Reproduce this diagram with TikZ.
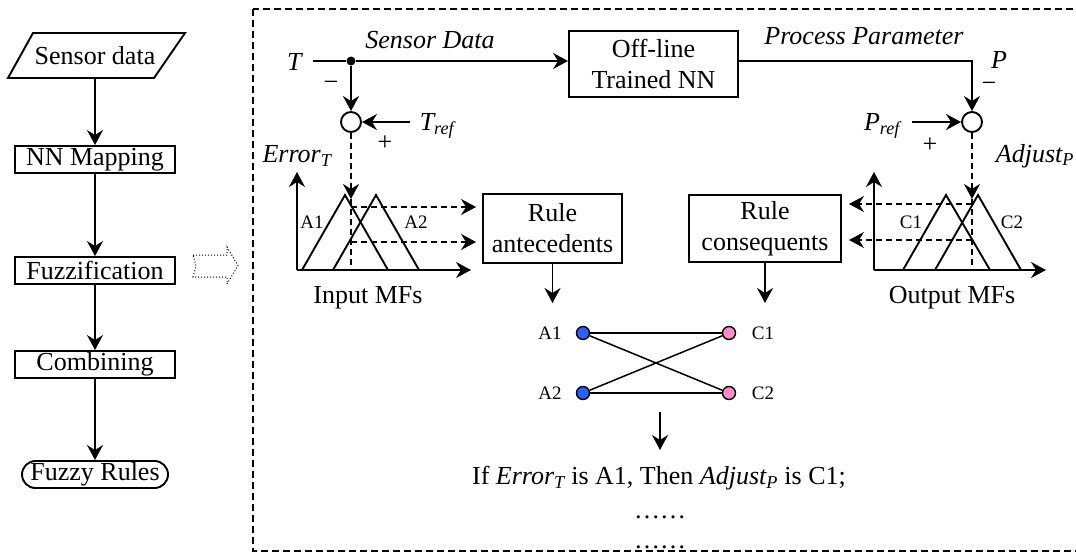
\documentclass[tikz,border=0pt]{standalone}
\usepackage{fontspec}
\setmainfont{Liberation Serif}
\usetikzlibrary{arrows.meta}
\definecolor{nodeblue}{RGB}{45,95,255}
\definecolor{nodepink}{RGB}{255,140,200}
\tikzset{
  ln/.style={line width=1.9pt},
  arr/.style={ln,-{Stealth[length=15pt,width=16pt,inset=5pt]}},
  darr/.style={arr,dash pattern=on 6pt off 4pt},
  dsh/.style={ln,dash pattern=on 6pt off 4pt},
  box/.style={draw,ln,inner sep=0pt,align=center},
  lbl/.style={inner sep=0pt},
  sm/.style={font=\fontsize{19}{21}\selectfont,inner sep=0pt},
  dotn/.style={circle,draw,line width=1.4pt,minimum size=13pt,inner sep=0pt},
  sumc/.style={circle,draw,ln,minimum size=20pt,inner sep=0pt},
}
\begin{document}
\begin{tikzpicture}[x=1pt,y=-1pt,font=\fontsize{26}{31}\selectfont]
\useasboundingbox (0,0) rectangle (1076,552);
% ---------- left flowchart ----------
\node[lbl,minimum height=45pt] (sd) at (95,55.5) {Sensor data};
\draw[ln] (33,33) -- (185,33) -- (154,78) -- (8,78) -- cycle;
\node[box,minimum width=160pt,minimum height=27pt] (nn) at (95,159.5) {NN Mapping};
\node[box,minimum width=160pt,minimum height=27pt] (fz) at (95,270.5) {Fuzzification};
\node[box,minimum width=160pt,minimum height=27pt] (cb) at (95,364.5) {Combining};
\node[box,rounded corners=13.5pt,minimum width=146pt,minimum height=27pt] (fr) at (95,474.5) {Fuzzy Rules};
\draw[arr] (sd.south) -- (nn.north);
\draw[arr] (nn.south) -- (fz.north);
\draw[arr] (fz.south) -- (cb.north);
\draw[arr] (cb.south) -- (fr.north);
% hollow dotted arrow
\draw[line width=1pt,dotted] (193,255) -- (227,255) -- (227,247) -- (238,265.5) -- (227,284) -- (227,277) -- (193,277) -- (196,266) -- cycle;
% ---------- dashed frame ----------
\draw[line width=1.6pt,dash pattern=on 7pt off 4pt] (253,9) rectangle (1100,551);
% ---------- top signal path ----------
\node[lbl] (tl) at (295,62) {\textit{T}};
\coordinate (ts) at (313,61);
\node[circle,fill,inner sep=0pt,minimum size=9pt] (dot) at (351,61) {};
\node[box,minimum width=169pt,minimum height=66pt] (onn) at (653.5,64) {Off-line\\Trained NN};
\node[lbl] at (430,40) {\textit{Sensor Data}};
\node[lbl] at (864,36) {\textit{Process Parameter}};
\node[sumc] (cl) at (351,122) {};
\node[sumc] (cr) at (972,122) {};
\draw[ln] (ts) -- (dot);
\draw[arr] (dot) -- (dot -| onn.west);
\draw[arr] (onn.east |- dot) -- (cr |- dot) -- (cr.north);
\draw[arr] (dot) -- (cl.north);
\node[lbl] at (331,86) {−};
\node[lbl] at (989,87) {−};
\node[lbl] at (999,60) {\textit{P}};
\coordinate (trs) at (410,122);
\draw[arr] (trs) -- (cl.east);
\node[lbl] at (437,126) {\textit{T\textsubscript{ref}}};
\coordinate (prs) at (912,122);
\draw[arr] (prs) -- (cr.west);
\node[lbl] at (882,126) {\textit{P\textsubscript{ref}}};
\node[lbl] at (385,143) {+};
\node[lbl] at (930,145) {+};
\node[lbl] at (297,156) {\textit{Error\textsubscript{T}}};
\node[lbl] at (1035,156) {\textit{Adjust\textsubscript{P}}};
% ---------- input MFs ----------
\coordinate (io) at (297,270);
\coordinate (ie) at (351,199);
\draw[darr] (cl.south) -- (ie);
\draw[arr] (io) -- (297,172);
\draw[arr] (io) -- (471,270);
\draw[ln] (302,270) -- (345,195) -- (388,270);
\draw[ln] (333,270) -- (376,195) -- (419,270);
\draw[dsh] (ie) -- (351,270);
\node[sm] at (312,222) {A1};
\node[sm] at (416,222) {A2};
\node[lbl] at (368,298) {Input MFs};
\node[box,minimum width=139pt,minimum height=69pt] (ra) at (552.5,228.5) {Rule\\antecedents};
\coordinate (i1) at (351,207);
\coordinate (i2) at (351,242);
\draw[darr,shorten >=6pt] (i1) -- (i1 -| ra.west);
\draw[darr,shorten >=6pt] (i2) -- (i2 -| ra.west);
% ---------- output MFs ----------
\coordinate (oo) at (874,270);
\coordinate (oe) at (972,199);
\draw[darr] (cr.south) -- (oe);
\draw[arr] (oo) -- (874,172);
\draw[arr] (oo) -- (1046,270);
\draw[ln] (903,270) -- (946,195) -- (990,270);
\draw[ln] (935,270) -- (978,195) -- (1021,270);
\draw[dsh] (oe) -- (972,270);
\node[sm] at (911,222) {C1};
\node[sm] at (1012,222) {C2};
\node[lbl] at (952,298) {Output MFs};
\node[box,minimum width=152pt,minimum height=67pt] (rc) at (765,228.5) {Rule\\consequents};
\coordinate (o1) at (972,204);
\coordinate (o2) at (972,240);
\draw[darr,shorten >=7pt] (o1) -- (o1 -| rc.east);
\draw[darr,shorten >=7pt] (o2) -- (o2 -| rc.east);
% ---------- rule graph ----------
\coordinate (ra2) at (552.5,303);
\coordinate (rc2) at (765,303);
\draw[arr] (ra.south) -- (ra2);
\draw[arr] (rc.south) -- (rc2);
\node[dotn,fill=nodeblue] (a1) at (583,333) {};
\node[dotn,fill=nodeblue] (a2) at (583,393) {};
\node[dotn,fill=nodepink] (c1) at (729,333) {};
\node[dotn,fill=nodepink] (c2) at (729,393) {};
\node[sm] at (550,333) {A1};
\node[sm] at (550,393) {A2};
\node[sm] at (763,333) {C1};
\node[sm] at (763,393) {C2};
\draw[line width=1.5pt] (a1) -- (c1);
\draw[line width=1.5pt] (a2) -- (c2);
\draw[line width=1.5pt] (a1) -- (c2);
\draw[line width=1.5pt] (a2) -- (c1);
\coordinate (g1) at (660,412);
\coordinate (g2) at (660,450);
\draw[arr] (g1) -- (g2);
\node[lbl] (rule) at (659,478) {If \textit{Error\textsubscript{T}} is A1, Then \textit{Adjust\textsubscript{P}} is C1;};
\node[lbl,anchor=base] at (660,518) {……};
\node[lbl,anchor=base] at (660,548) {……};
\end{tikzpicture}
\end{document}
